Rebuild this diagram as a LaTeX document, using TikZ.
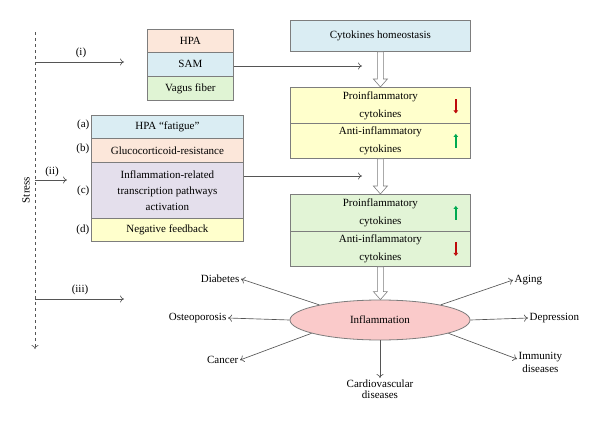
\documentclass[tikz,border=0pt]{standalone}
\usepackage{fontspec}
\setmainfont{Liberation Serif}
\usetikzlibrary{arrows.meta,shapes.geometric,calc}
\definecolor{bordergray}{RGB}{125,125,125}
\definecolor{linegray}{RGB}{85,85,85}
\definecolor{peach}{RGB}{252,231,218}
\definecolor{lightblue}{RGB}{218,237,243}
\definecolor{lightgreen}{RGB}{224,244,212}
\definecolor{lavender}{RGB}{228,223,236}
\definecolor{lightyellow}{RGB}{255,255,204}
\definecolor{greenbox}{RGB}{226,244,214}
\definecolor{pinkfill}{RGB}{250,202,202}
\definecolor{uparrowgreen}{RGB}{0,170,80}
\definecolor{downarrowred}{RGB}{190,10,10}
\newcommand{\hollowarr}[2]{%
  \draw[hollow] let \p1=(#1), \p2=(#2) in
    (\x1-3,\y1) -- (\x1-3,\y2+8) -- (\x1-7,\y2+8) -- (\x1,\y2) --
    (\x1+7,\y2+8) -- (\x1+3,\y2+8) -- (\x1+3,\y1) -- cycle;}
\begin{document}
\begin{tikzpicture}[x=1pt,y=-1pt,
  txt/.style={font=\fontsize{11}{12}\selectfont, inner sep=1.5pt},
  box/.style={draw=bordergray, line width=0.8pt, anchor=north west, inner sep=0pt,
    align=center, font=\fontsize{11}{16}\selectfont},
  twoline/.style={box, font=\fontsize{11}{18}\selectfont},
  conn/.style={draw=linegray, line width=0.65pt, -{To[length=4pt,width=7pt]}},
  hollow/.style={draw=bordergray, line width=0.6pt, fill=white},
  updown/.style={line width=1.6pt, -{Triangle[length=3pt,width=4.5pt]}},
]
\useasboundingbox (0,0) rectangle (600,423);

% Stress axis
\coordinate (stop) at (35,32);
\coordinate (sbot) at (35,349);
\draw[draw=linegray, line width=0.6pt, dashed, -{To[length=4pt,width=7pt]}] (stop) -- (sbot);
\node[txt, rotate=90] (stress) at (26,190) {Stress};

% (i)
\coordinate (s1) at (35,62);
\coordinate (e1) at (124,62);
\draw[conn] (s1) -- (e1);
\node[txt] (li) at (81,53) {(i)};

% HPA / SAM / Vagus
\node[box, fill=peach, minimum width=86pt, minimum height=23pt] (hpa) at (147,29) {HPA};
\node[box, fill=lightblue, minimum width=86pt, minimum height=24pt] (sam) at (147,52) {SAM};
\node[box, fill=lightgreen, minimum width=86pt, minimum height=24pt] (vagus) at (147,76) {Vagus fiber};

% right column
\node[box, fill=lightblue, minimum width=180pt, minimum height=31pt] (home) at (290,20) {Cytokines homeostasis};
\node[twoline, fill=lightyellow, minimum width=180pt, minimum height=36pt] (pro1) at (290,87) {Proinflammatory\\cytokines};
\node[twoline, fill=lightyellow, minimum width=180pt, minimum height=35pt] (anti1) at (290,123) {Anti-inflammatory\\cytokines};
\node[twoline, fill=greenbox, minimum width=180pt, minimum height=37pt] (pro2) at (290,194) {Proinflammatory\\cytokines};
\node[twoline, fill=greenbox, minimum width=180pt, minimum height=35pt] (anti2) at (290,231) {Anti-inflammatory\\cytokines};

% small arrows
\draw[updown, downarrowred] ([xshift=-15pt,yshift=6pt]pro1.east) -- ([xshift=-15pt,yshift=-8pt]pro1.east);
\draw[updown, uparrowgreen] ([xshift=-15pt,yshift=-7pt]anti1.east) -- ([xshift=-15pt,yshift=7pt]anti1.east);
\draw[updown, uparrowgreen] ([xshift=-15pt,yshift=-7pt]pro2.east) -- ([xshift=-15pt,yshift=7pt]pro2.east);
\draw[updown, downarrowred] ([xshift=-15pt,yshift=7pt]anti2.east) -- ([xshift=-15pt,yshift=-7pt]anti2.east);

% inflammation
\node[ellipse, draw=bordergray, line width=0.8pt, fill=pinkfill, minimum width=180pt, minimum height=40pt,
  font=\fontsize{11}{12}\selectfont, inner sep=0pt] (infl) at (380,320) {Inflammation};

% hollow arrows
\hollowarr{home.south}{pro1.north}
\hollowarr{anti1.south}{pro2.north}
\hollowarr{anti2.south}{infl.north}

% SAM connector
\coordinate (samend) at (362,66);
\draw[conn] (sam.east |- samend) -- (samend);

% (ii)
\coordinate (s2) at (35,180);
\coordinate (e2) at (67,180);
\draw[conn] (s2) -- (e2);
\node[txt] (lii) at (52,172) {(ii)};

% left boxes
\node[box, fill=lightblue, minimum width=152pt, minimum height=23pt] (boxa) at (91,115) {HPA ``fatigue''};
\node[box, fill=peach, minimum width=152pt, minimum height=24pt] (boxb) at (91,138) {Glucocorticoid-resistance};
\node[box, fill=lavender, minimum width=152pt, minimum height=56pt] (boxc) at (91,162) {Inflammation-related\\transcription pathways\\activation};
\node[box, fill=lightyellow, minimum width=152pt, minimum height=23pt] (boxd) at (91,218) {Negative feedback};
\node[txt, anchor=east] (la) at ([yshift=2pt]boxa.west) {(a)};
\node[txt, anchor=east] (lb) at ([yshift=2pt]boxb.west) {(b)};
\node[txt, anchor=east] (lc) at (boxc.west) {(c)};
\node[txt, anchor=east] (ld) at (boxd.west) {(d)};

\coordinate (cend) at (362,176);
\draw[conn] (boxc.east |- cend) -- (cend);

% (iii)
\coordinate (s3) at (35,299);
\coordinate (e3) at (124,299);
\draw[conn] (s3) -- (e3);
\node[txt] (liii) at (80,290) {(iii)};

% outcomes
\node[txt, anchor=east] (diab) at (241,279) {Diabetes};
\node[txt, anchor=east] (osteo) at (228,318) {Osteoporosis};
\node[txt, anchor=east] (canc) at (240,360) {Cancer};
\node[txt, anchor=north, align=center, font=\fontsize{11}{11.5}\selectfont] (cardio) at (380,378) {Cardiovascular\\diseases};
\node[txt, anchor=west] (aging) at (513,280) {Aging};
\node[txt, anchor=west] (dep) at (528,318) {Depression};
\node[txt, anchor=north west, align=center, font=\fontsize{11}{12.5}\selectfont] (imm) at (517,351) {Immunity\\diseases};

\draw[conn] (infl.166) -- (diab.east);
\draw[conn] (infl.west) -- (osteo.east);
\draw[conn] (infl.191) -- (canc.east);
\draw[conn] (infl.south) -- (cardio.north);
\draw[conn] (infl.14) -- (aging.west);
\draw[conn] (infl.east) -- (dep.west);
\coordinate (immtip) at (517,359);
\draw[conn] (infl.349) -- (immtip);
\end{tikzpicture}
\end{document}
